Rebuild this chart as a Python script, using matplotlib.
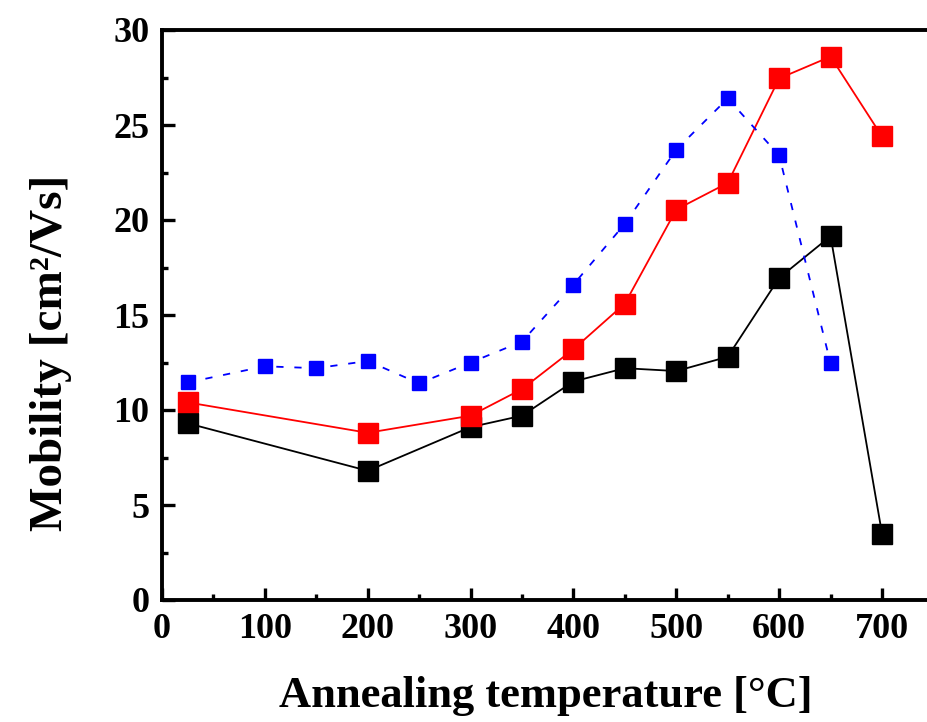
import matplotlib
matplotlib.use("Agg")
import matplotlib.pyplot as plt
from matplotlib.ticker import MultipleLocator

# Hall mobility vs annealing temperature for three film series
temp_black = [25, 200, 300, 350, 400, 450, 500, 550, 600, 650, 700]
mob_black = [9.3, 6.8, 9.1, 9.7, 11.5, 12.2, 12.05, 12.8, 16.95, 19.15, 3.5]

temp_red = [25, 200, 300, 350, 400, 450, 500, 550, 600, 650, 700]
mob_red = [10.4, 8.8, 9.7, 11.1, 13.2, 15.6, 20.55, 21.95, 27.45, 28.6, 24.4]

temp_blue = [25, 100, 150, 200, 250, 300, 350, 400, 450, 500, 550, 600, 650]
mob_blue = [11.45, 12.3, 12.2, 12.58, 11.4, 12.5, 13.6, 16.6, 19.8, 23.7, 26.4, 23.4, 12.45]

x_ticks = [0, 100, 200, 300, 400, 500, 600, 700]
y_ticks = [0, 5, 10, 15, 20, 25, 30]

W, H = 927, 722
fig = plt.figure(figsize=(W / 100, H / 100), dpi=100)
left, bottom, top = 162 / W, (H - 600) / H, (H - 30) / H
xmax = 760
px_per_unit = (882 - 162) / 700
ax_w_px = xmax * px_per_unit
ax = fig.add_axes([left, bottom, ax_w_px / W, top - bottom])

font = dict(family="Liberation Serif", weight="bold")

ax.plot(temp_black, mob_black, color="black", lw=1.3, marker="s", ms=14.5,
        mec="black", mfc="black", zorder=3)
ax.plot(temp_red, mob_red, color="red", lw=1.3, marker="s", ms=14.5,
        mec="red", mfc="red", zorder=4)
ax.plot(temp_blue, mob_blue, color="blue", lw=1.3, ls=(0, (4, 6)), marker="s",
        ms=9.5, mec="blue", mfc="blue", zorder=5)

ax.set_xlim(0, xmax)
ax.set_ylim(0, 30)
ax.set_xticks(x_ticks)
ax.set_yticks(y_ticks)
ax.xaxis.set_minor_locator(MultipleLocator(50))
ax.yaxis.set_minor_locator(MultipleLocator(2.5))

for s in ax.spines.values():
    s.set_linewidth(2.8)

ax.tick_params(which="major", direction="in", length=9, width=2.4, pad=9,
               labelsize=26)
ax.tick_params(which="minor", direction="in", length=4.5, width=2.4)
for lab in ax.get_xticklabels() + ax.get_yticklabels():
    lab.set_fontfamily("Liberation Serif")
    lab.set_fontweight("bold")

ax.set_xlabel("Annealing temperature [°C]", fontsize=32, **font)
ax.set_ylabel("Mobility [cm²/Vs]", fontsize=34, **font)
ax.xaxis.set_label_coords((546 - 162) / ax_w_px, (600 - 676) / 570)
ax.yaxis.set_label_coords((72 - 162) / ax_w_px, (600 - 353) / 570)

fig.savefig("out.png", dpi=100)
